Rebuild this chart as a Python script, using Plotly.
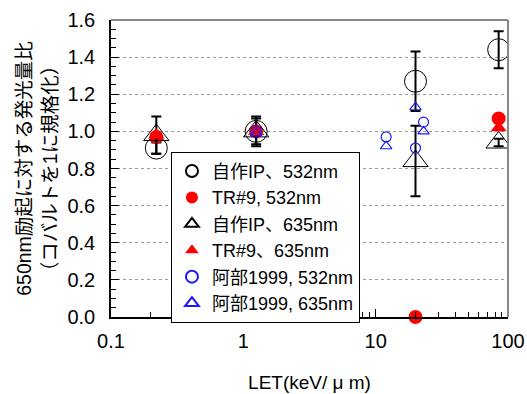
import plotly.graph_objects as go

# Data
let_own = [0.22, 1.25, 20, 85]
own_532 = [0.91, 1.00, 1.27, 1.44]
own_532_err = [0.03, 0.07, 0.16, 0.10]
tr9_532 = [0.97, 1.00, 0.00, 1.07]
own_635 = [0.98, 1.00, 0.84, 0.94]
own_635_err = [0.10, 0.08, 0.19, 0.02]
tr9_635 = [0.98, 1.00, None, 1.02]
let_abe = [1.25, 12, 20, 23]
abe_532 = [1.00, 0.97, 0.91, 1.05]
abe_635 = [0.99, 0.92, 1.13, 1.00]

names = ["自作IP、532nm", "TR#9, 532nm", "自作IP、635nm", "TR#9、635nm",
         "阿部1999, 532nm", "阿部1999, 635nm"]

x_ticks = [0.1, 1, 10, 100]
x_tick_text = ["0.1", "1", "10", "100"]
x_minor = [m * d for d in (0.1, 1, 10) for m in range(2, 10)]

FONT = "Liberation Sans, Arial, Noto Sans CJK JP, sans-serif"

fig = go.Figure()
fig.add_trace(go.Scatter(x=let_own, y=own_532, mode="markers", name=names[0],
                         marker=dict(symbol="circle-open", size=22, color="black", line=dict(width=1)),
                         error_y=dict(type="data", array=own_532_err, color="black", thickness=2, width=5)))
fig.add_trace(go.Scatter(x=let_own, y=tr9_532, mode="markers", name=names[1], cliponaxis=False,
                         marker=dict(symbol="circle", size=14, color="red")))
fig.add_trace(go.Scatter(x=let_own, y=own_635, mode="markers", name=names[2],
                         marker=dict(symbol="triangle-up-open", size=22, color="black", line=dict(width=1)),
                         error_y=dict(type="data", array=own_635_err, color="black", thickness=2, width=5)))
fig.add_trace(go.Scatter(x=let_own, y=tr9_635, mode="markers", name=names[3],
                         marker=dict(symbol="triangle-up", size=14, color="red")))
fig.add_trace(go.Scatter(x=let_abe, y=abe_532, mode="markers", name=names[4],
                         marker=dict(symbol="circle-open", size=10, color="#1a1aff", line=dict(width=1.2))))
fig.add_trace(go.Scatter(x=let_abe, y=abe_635, mode="markers", name=names[5],
                         marker=dict(symbol="triangle-up-open", size=10, color="#1a1aff", line=dict(width=1.2))))

fig.update_layout(
    width=527, height=394,
    margin=dict(l=111, r=19, t=20, b=77),
    paper_bgcolor="white", plot_bgcolor="white",
    font=dict(family=FONT, size=20, color="black"),
    showlegend=True,
    legend=dict(x=0.151, y=0.556, xanchor="left", yanchor="top",
                bordercolor="black", borderwidth=1, bgcolor="white",
                font=dict(size=18), itemsizing="constant", tracegroupgap=0,
                itemwidth=30),
    xaxis=dict(type="log", range=[-1, 2], automargin=False,
               tickvals=x_ticks, ticktext=x_tick_text,
               ticks="inside", ticklen=8, tickcolor="black", ticklabelstandoff=5,
               showline=True, linecolor="black", linewidth=1.5, showgrid=False,
               minor=dict(tickvals=x_minor, ticks="inside", ticklen=5, tickcolor="black", showgrid=False),
               title=dict(text="LET(keV/ μ m)", font=dict(size=19), standoff=25),
               zeroline=False),
    yaxis=dict(range=[0, 1.6], dtick=0.2, tickformat=".1f", automargin=False,
               ticks="inside", ticklen=8, tickcolor="black", ticklabelstandoff=10,
               showline=True, linecolor="black", linewidth=1.5,
               showgrid=True, gridcolor="#999999", griddash="dot", gridwidth=1,
               minor=dict(dtick=0.05, ticks="inside", ticklen=5, tickcolor="black", showgrid=False),
               title=dict(text="650nm励起に対する発光量比<br>（コバルトを1に規格化）", font=dict(size=19.5), standoff=5),
               zeroline=False),
)

fig.add_shape(type="line", xref="paper", yref="paper", x0=0, x1=1, y0=1, y1=1,
              line=dict(color="#888888", width=2))
fig.add_shape(type="line", xref="paper", yref="paper", x0=1, x1=1, y0=0, y1=1,
              line=dict(color="#888888", width=2))

fig.write_html("out.html", config={"displayModeBar": False},
               post_script="document.body.style.margin='0';")
